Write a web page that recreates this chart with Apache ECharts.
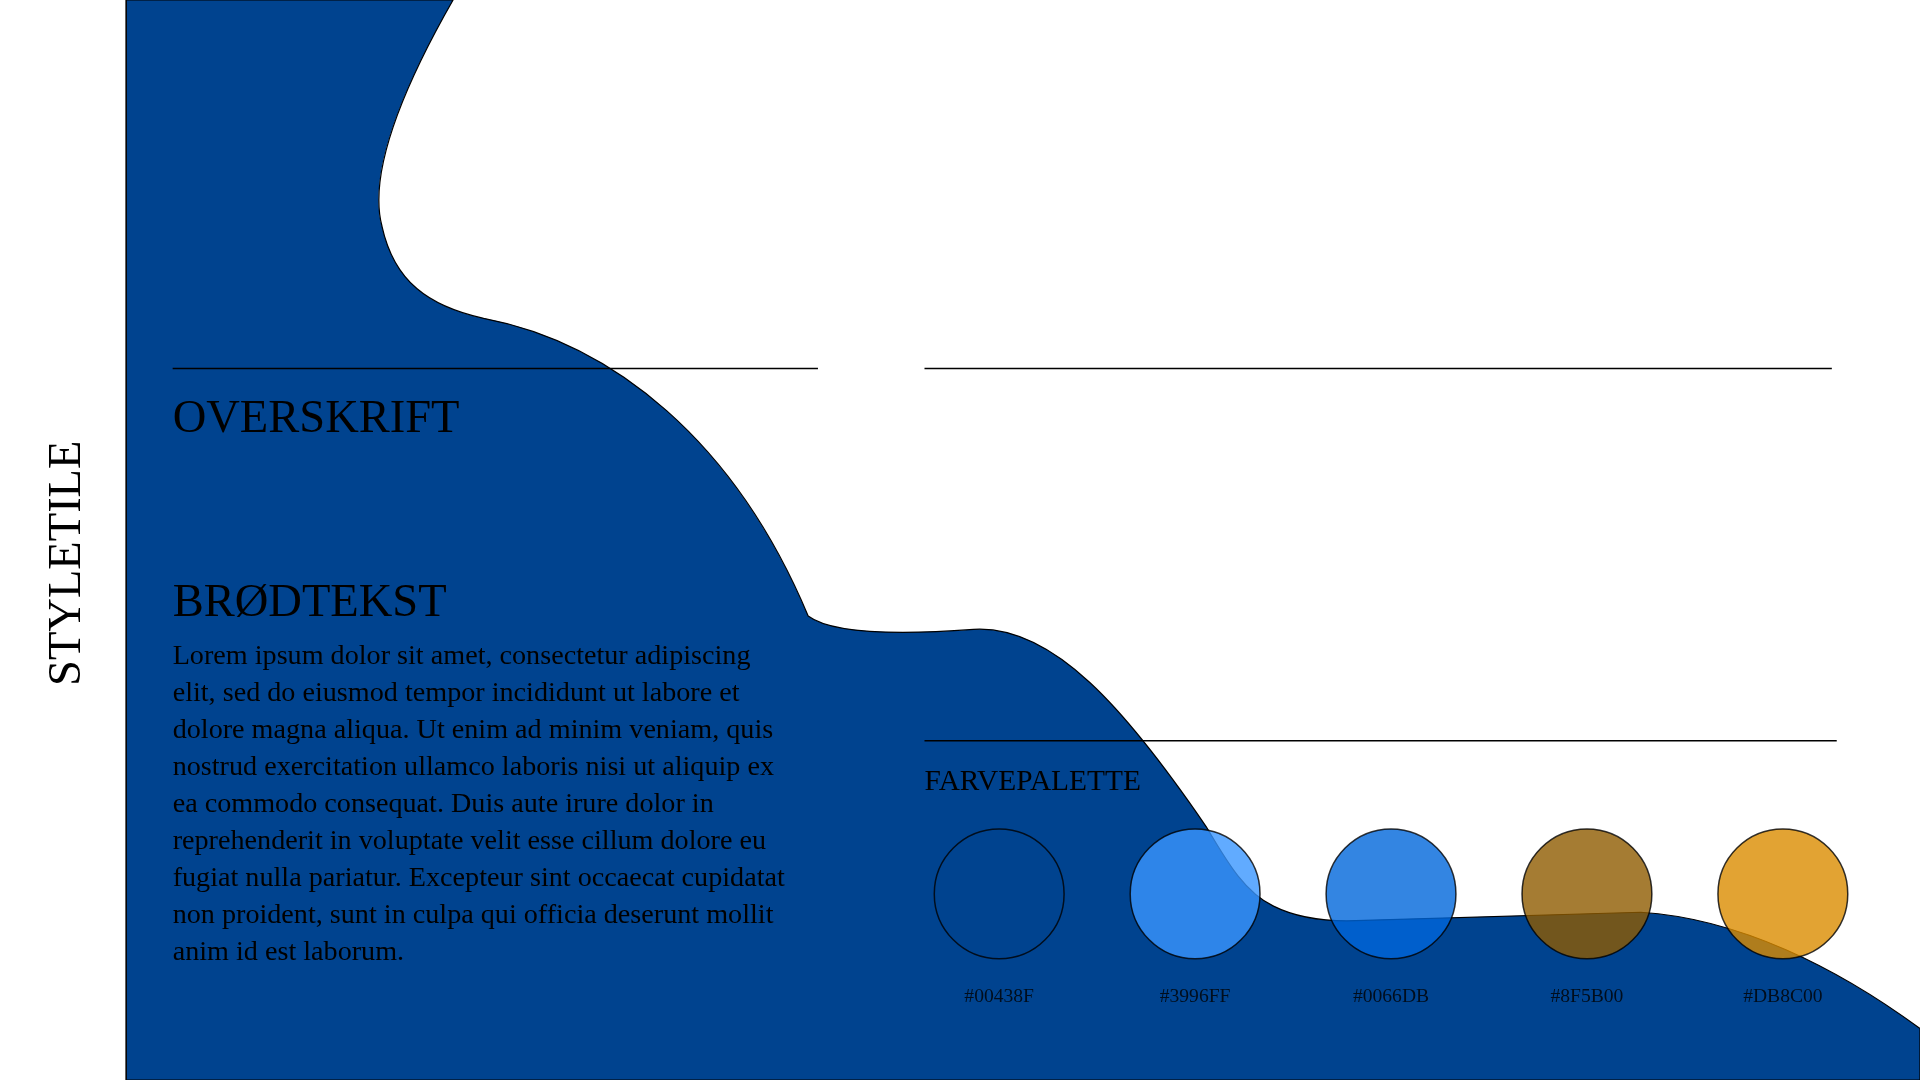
<!DOCTYPE html>
<html>
<head>
<meta charset="utf-8">
<script src="https://cdn.jsdelivr.net/npm/echarts@6/dist/echarts.min.js"></script>
<style>
  html, body { margin: 0; padding: 0; background: #fff; }
  #chart { width: 1920px; height: 1080px; }
</style>
</head>
<body>
<div id="chart"></div>
<script>
// palette swatches
const paletteColors = ['#00438F', '#3996FF', '#0066DB', '#8F5B00', '#DB8C00'];
const paletteLabels = ['#00438F', '#3996FF', '#0066DB', '#8F5B00', '#DB8C00'];
const swatchValues = [1, 1, 1, 1, 1];

const bodyLines = [
    'Lorem ipsum dolor sit amet, consectetur adipiscing',
    'elit, sed do eiusmod tempor incididunt ut labore et',
    'dolore magna aliqua. Ut enim ad minim veniam, quis',
    'nostrud exercitation ullamco laboris nisi ut aliquip ex',
    'ea commodo consequat. Duis aute irure dolor in',
    'reprehenderit in voluptate velit esse cillum dolore eu',
    'fugiat nulla pariatur. Excepteur sint occaecat cupidatat',
    'non proident, sunt in culpa qui officia deserunt mollit',
    'anim id est laborum.'
];

const K = 1920 / 1568;
const s = v => v * K;
const serif = 'Liberation Serif, Times New Roman, serif';

const blobPath =
    'M103,0 L370,0 C330,70 300,140 312,185 C322,230 350,250 395,260 ' +
    'C500,280 600,360 660,503 C680,518 740,518 795,514 C860,510 920,580 985,675 ' +
    'C1000,700 1015,728 1040,740 C1060,750 1080,752 1100,752 L1340,745 ' +
    'C1420,750 1500,790 1568,840 L1568,882 L103,882 Z';

echarts.graphic.registerShape('blob', echarts.graphic.extendPath(blobPath, {}));

const graphics = [
    {
        type: 'blob', z: 0,
        scaleX: K, scaleY: K,
        shape: {},
        style: { fill: '#00438F', stroke: '#000', lineWidth: 1 }
    },
    { type: 'rect', z: 1, shape: { x: 0, y: 0, width: s(103), height: 1080 }, style: { fill: '#fff' } },
    { type: 'line', z: 2, shape: { x1: s(103), y1: 0, x2: s(103), y2: 1080 }, style: { stroke: '#000', lineWidth: 1.5 } },
    { type: 'line', z: 2, shape: { x1: s(141), y1: s(301), x2: s(668), y2: s(301) }, style: { stroke: '#000', lineWidth: 1.5 } },
    { type: 'line', z: 2, shape: { x1: s(755), y1: s(301), x2: s(1496), y2: s(301) }, style: { stroke: '#000', lineWidth: 1.5 } },
    { type: 'line', z: 2, shape: { x1: s(755), y1: s(605), x2: s(1500), y2: s(605) }, style: { stroke: '#000', lineWidth: 1.5 } },
    {
        type: 'text', z: 2, x: s(55), y: s(460), rotation: Math.PI / 2,
        style: { text: 'STYLETILE', font: `${s(38)}px ${serif}`, fill: '#000', align: 'center', verticalAlign: 'middle' }
    },
    {
        type: 'text', z: 2, x: s(141), y: s(343),
        style: { text: 'OVERSKRIFT', font: `${s(38)}px ${serif}`, fill: '#000', verticalAlign: 'middle' }
    },
    {
        type: 'text', z: 2, x: s(141), y: s(493),
        style: { text: 'BRØDTEKST', font: `${s(38)}px ${serif}`, fill: '#000', verticalAlign: 'middle' }
    },
    {
        type: 'text', z: 2, x: s(141), y: s(521),
        style: { text: bodyLines.join('\n'), font: `${s(23)}px ${serif}`, lineHeight: s(30.2), fill: '#000' }
    },
    {
        type: 'text', z: 2, x: s(755), y: s(639),
        style: { text: 'FARVEPALETTE', font: `${s(24)}px ${serif}`, fill: '#000', verticalAlign: 'middle' }
    }
];

const chart = echarts.init(document.getElementById('chart'));
chart.setOption({
    animation: false,
    graphic: graphics,
    grid: { left: s(736), width: s(800), top: s(680), height: s(100) },
    xAxis: { type: 'category', data: paletteLabels, show: false },
    yAxis: { type: 'value', min: 0, max: 2, show: false },
    series: [{
        type: 'scatter',
        z: 5,
        symbolSize: s(106),
        data: swatchValues.map((v, i) => ({
            value: v,
            itemStyle: { color: paletteColors[i], borderColor: '#000', borderWidth: 1.5 }
        })),
        label: {
            show: true,
            position: 'bottom',
            distance: s(22),
            formatter: p => paletteLabels[p.dataIndex],
            fontFamily: serif,
            fontSize: s(16),
            color: '#000'
        }
    }]
});
</script>
</body>
</html>
